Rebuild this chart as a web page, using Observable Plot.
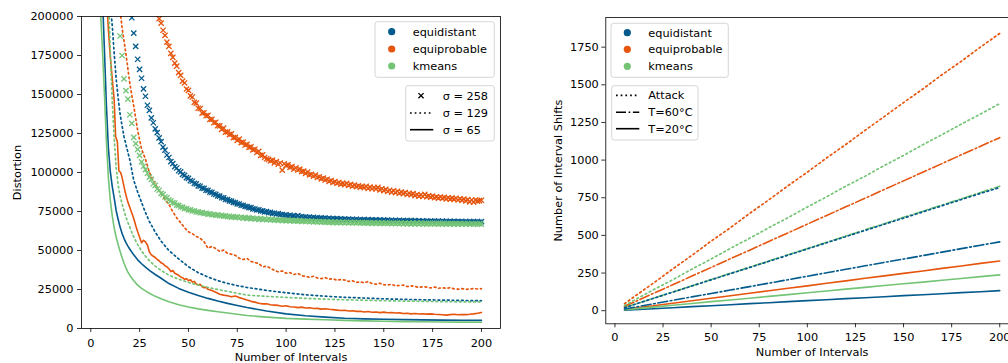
<!DOCTYPE html>
<html><head><meta charset="utf-8">
<script src="https://cdn.jsdelivr.net/npm/d3@7"></script>
<script src="https://cdn.jsdelivr.net/npm/@observablehq/plot@0.6"></script>
<style>
html,body{margin:0;padding:0;background:#fff;overflow:hidden;}
#wrap{position:relative;width:1008px;height:363px;overflow:hidden;font-family:"DejaVu Sans";}
#wrap svg{position:absolute;top:0;}
</style></head><body><div id="wrap"></div>
<script>
// ---------- data ----------
const methods = ["equidistant", "equiprobable", "kmeans"];
const colors = ["#045a8d", "#e6550d", "#74c476"];
const xTicks = [0, 25, 50, 75, 100, 125, 150, 175, 200];
const yTicksL = [0, 25000, 50000, 75000, 100000, 125000, 150000, 175000, 200000];
const yTicksR = [0, 250, 500, 750, 1000, 1250, 1500, 1750];

// left panel: distortion in thousands
const gridA = [5,6,7,8,9,10,11,12,13,14,15,16,17,18,19,20,22,24,26,28,30,33,36,40,45,50,55,60,65,70,75,80,90,100,110,120,130,140,150,160,170,180,190,200];
const eqd65 = [260,212,178,143,116,100.5,91,83.5,75.5,70,65,61,57.8,55,52.8,50.8,47.2,44,41.5,39.3,37.3,34.6,32.2,28.8,25.7,23.3,21.2,19.3,17.6,16.1,14.8,13.5,11.2,9.4,8.2,7.3,6.6,6.2,5.9,5.7,5.5,5.4,5.3,5.2];
const km65 = [203,178,150,120,97,82,72,64.3,58.5,53.8,49.5,45.5,42,38.8,36.2,34,30.6,27.8,25.7,24.1,22.6,20.6,19.1,17.2,15.2,13.8,12.6,11.6,10.7,9.9,9.1,8.3,7.3,6.5,6.0,5.6,5.2,4.9,4.6,4.4,4.3,4.2,4.1,4.0];
const eqp65N = [7,8,9,10,11,12,12.7,13.6,14.4,15.3, ...d3.range(16, 61), ...d3.range(62, 201, 2)];
const eqp65 = [260,215,192,174,160,146,123,120,101,100,
  97,91,85.5,81,77.5,74,70.5,66,62,58.5,55,56.5,55.5,53.5,49,47.2,46.3,45.5,44.2,43.4,
  42.1,41.5,40.2,39.5,38.3,36.5,37.2,35.4,34.8,34.1,33.0,32.6,31.4,32.0,30.6,31.2,29.8,30.2,28.6,27.9,
  28.3,26.8,26.1,26.5,25.1,
  24.3,23.2,22.0,21.4,21.0,20.3,20.8,19.8,19.1,18.2,17.4,16.9,16.2,15.8,15.9,15.2,15.0,14.8,14.3,14.6,
  13.9,13.8,13.4,13.7,13.1,13.3,12.8,12.9,12.4,12.7,12.3,12.1,11.8,11.5,11.7,11.2,11.4,11.0,11.1,10.6,
  10.9,10.4,10.6,10.2,10.5,10.1,10.3,9.9,10.0,9.6,9.8,9.4,9.6,9.3,9.5,9.2,9.4,9.1,9.0,8.8,
  8.6,8.9,9.1,8.8,9.0,8.9,9.1,9.4,9.8,10.3];
const eqd129 = [400,330,290,255,228,208,194,176,160,148,137.5,130,123.1,118,113,108,95,87.5,80.8,74.3,68.6,61.8,56,50,44.6,39.6,35.8,33,30.7,28.9,27.5,26.3,24.4,22.9,21.6,20.7,20.0,19.5,19.0,18.7,18.4,18.2,18.0,17.8];
const km129 = [350,310,280,250,215,178,145,122,103,92,85,80,75.5,71.5,68,64.8,58.7,53.8,49.7,46.3,43.5,40,37.2,34.2,31.6,29.5,27.8,26.3,25,23.8,22.6,21.4,20.6,19.9,19.3,18.8,18.4,18.1,17.8,17.6,17.4,17.2,17.1,17.0];
const eqp129N = d3.range(14, 201, 2);
const eqp129 = [215,193,176,157,142.5,127,115,108.5,100,95,90.3,86.8,82.6,79.5,74.8,70.9,67.8,64.6,62.0,60.8,
  59.0,57.9,55.6,51.5,52.6,51.2,49.4,50.3,48.2,47.6,46.9,45.0,44.2,44.9,43.0,42.3,41.6,39.5,39.9,38.6,
  37.2,36.3,36.9,35.4,35.8,34.6,35.3,33.9,33.4,32.8,33.5,32.4,32.0,32.6,31.6,31.9,30.9,31.4,31.1,30.2,
  30.6,29.5,29.9,29.3,30.1,28.8,28.4,29.0,28.1,27.9,28.4,27.3,27.6,27.8,26.9,27.3,27.0,26.3,26.8,26.5,
  26.0,26.6,25.8,26.1,25.7,26.2,25.4,25.2,25.6,25.1,25.3,25.7,25.3,25.5];
// sigma = 258 markers, one per number of intervals
const eqd258Start = 21;
const eqd258 = [199.2,189.3,180.8,172.6,166.1,160.4,153.6,148.9,143.1,139.8,
  135.0,131.9,128.0,125.6,122.2,119.8,116.3,114.3,111.2,109.6,
  107.0,105.7,103.8,102.9,101.1,100.4,98.8,98.2,96.7,96.2,
  94.8,94.4,93.0,92.7,91.4,91.2,90.0,89.8,88.6,88.5,
  87.4,87.3,86.2,86.0,85.0,84.9,83.8,83.7,82.7,82.6,
  81.8,81.6,80.8,80.7,79.9,79.8,79.0,78.9,78.2,78.1,
  77.5,77.5,76.7,76.6,76.0,76.1,75.4,75.4,74.8,74.9,
  74.3,74.4,73.8,73.9,73.4,73.6,73.0,73.1,72.6,72.8,
  72.3,72.6,72.0,72.2,71.8,72.4,71.6,71.8,71.3,71.5,
  71.1,71.4,70.9,71.2,70.8,71.0,70.6,70.9,70.5,70.8,
  70.3,70.7,70.2,70.5,70.1,70.4,70.0,70.3,69.9,70.2,
  69.8,70.1,69.7,70.0,69.6,70.0,69.5,69.9,69.5,69.8,
  69.4,69.8,69.3,69.7,69.3,69.6,69.2,69.6,69.2,69.5,
  69.1,69.5,69.0,69.4,69.0,69.3,68.9,69.3,68.9,69.2,
  68.8,69.2,68.8,69.1,68.7,69.1,68.7,69.0,68.6,69.0,
  68.6,68.9,68.5,68.9,68.5,68.8,68.5,68.8,68.4,68.8,
  68.4,68.7,68.4,68.7,68.3,68.7,68.3,68.6,68.3,68.6,
  68.2,68.6,68.2,68.5,68.2,68.5,68.2,68.5,68.1,68.5];
const eqp258Start = 34;
const eqp258 = [202.5,198.6,195.8,191.2,187.9,183.6,180.9,176.4,173.8,170.1,
  168.2,164.0,162.3,158.6,157.4,153.5,152.6,149.1,148.4,145.0,
  144.5,141.2,141.0,138.1,138.3,136.4,136.6,134.0,134.1,131.9,
  132.2,130.0,129.9,127.6,128.4,125.9,126.0,124.3,124.8,122.4,
  122.5,120.6,121.4,119.2,119.5,117.6,118.0,116.1,116.4,114.5,
  114.9,112.8,113.5,111.0,111.3,109.6,108.8,108.4,107.5,107.9,
  106.2,107.0,105.3,106.1,101.5,105.6,104.6,104.9,103.3,103.8,
  102.1,103.0,101.6,102.2,100.6,100.9,99.4,100.3,98.5,98.9,
  97.6,98.3,96.8,97.3,95.9,96.4,95.2,95.7,94.3,94.9,
  93.6,94.2,93.1,93.6,92.5,93.0,92.2,93.1,91.7,92.4,
  91.2,91.9,90.9,91.5,90.6,91.0,90.3,91.2,89.8,90.6,
  89.6,90.4,89.5,90.5,88.9,89.6,88.4,89.2,87.8,88.6,
  87.4,88.3,87.1,88.0,86.7,87.4,86.5,87.2,85.9,86.7,
  85.8,86.5,85.2,85.9,84.9,85.6,84.6,86.0,84.5,85.1,
  84.2,84.9,83.8,84.4,83.6,84.3,83.5,84.1,83.1,83.8,
  82.9,83.6,82.8,83.5,82.4,83.2,82.3,82.9,81.8,82.6,
  81.2,82.4,81.0,82.3,81.6,82.0,82.2];
const km258Start = 14;
const km258 = [203,187.5,175.0,160.0,152.5,147.0,137.0,131.5,122.5,118.5,
  114.8,111.0,106.8,104.0,101.8,99.5,97.0,95.6,92.8,91.7,
  89.4,88.6,86.6,86.0,84.3,83.7,82.4,81.8,80.7,80.4,
  79.1,78.9,77.9,77.8,76.8,76.9,76.0,76.0,75.3,75.4,
  74.7,74.8,74.2,74.3,73.7,73.9,73.3,73.5,72.9,73.1,
  72.6,72.8,72.3,72.5,72.0,72.2,71.7,71.9,71.4,71.7,
  71.2,71.5,71.0,71.3,70.8,71.1,70.6,70.9,70.4,70.7,
  70.2,70.5,70.0,70.4,69.9,70.2,69.7,70.1,69.6,69.9,
  69.4,69.8,69.3,69.7,69.2,69.5,69.1,69.4,69.0,69.3,
  68.9,69.2,68.8,69.1,68.7,69.0,68.6,68.9,68.5,68.8,
  68.4,68.7,68.3,68.6,68.2,68.5,68.1,68.4,68.0,68.4,
  67.9,68.3,67.9,68.2,67.8,68.2,67.8,68.1,67.7,68.1,
  67.7,68.0,67.6,68.0,67.6,67.9,67.5,67.9,67.5,67.8,
  67.4,67.8,67.4,67.8,67.3,67.7,67.3,67.7,67.3,67.6,
  67.2,67.6,67.2,67.6,67.2,67.6,67.1,67.5,67.1,67.5,
  67.1,67.5,67.1,67.5,67.0,67.5,67.0,67.4,67.0,67.4,
  67.0,67.4,67.0,67.4,66.9,67.4,66.9,67.4,66.9,67.3,
  66.9,67.3,66.9,67.3,66.9,67.3,66.8,67.3,66.8,67.3,
  66.8,67.3,66.8,67.2,66.8,67.2,66.8];

// right panel: number of interval shifts
const nR = [5,10,20,30,40,50,60,70,80,90,100,110,120,130,140,150,160,170,180,190,200];
const eqpAttack = [46,93,183,277,367,462,551,646,736,830,920,1014,1104,1198,1289,1382,1472,1567,1656,1751,1841];
const kmAttack = [34,69,139,205,276,343,414,481,551,618,689,756,827,893,964,1031,1102,1169,1239,1306,1375];
const eqdAttack = [20,41,82,123,164,205,246,287,328,369,410,451,492,533,574,615,656,697,738,779,818];
const eqpT60 = [29,57,115,172,230,287,345,402,460,517,575,632,690,747,805,862,920,977,1035,1092,1149];
const kmT60 = [21,41,83,124,165,207,248,289,330,372,413,454,496,537,578,620,661,702,743,785,826];
const eqdT60 = [11,23,46,69,92,114,137,160,183,206,229,252,275,298,321,343,366,389,412,435,457];
const eqpT20 = [8,17,33,50,66,83,99,116,132,149,165,182,198,215,231,248,264,281,297,314,330];
const kmT20 = [6,12,24,36,48,60,71,83,95,107,119,131,143,155,167,179,190,202,214,226,238];
const eqdT20 = [3,7,13,20,27,33,40,47,53,60,67,73,80,86,93,100,106,113,120,126,133];

// ---------- build ----------
const K = 1000;
const FONT = "DejaVu Sans", FS = 11.3;
const rowsOf = (ns, vs, method, s = 1) => vs.map((v, i) => ({n: ns[i], v: v * s, method}));
const rowsFrom = (start, vs, method) => vs.map((v, i) => ({n: start + i, v: v * K, method}));

const solidL = [...rowsOf(gridA, eqd65, "equidistant", K), ...rowsOf(eqp65N, eqp65, "equiprobable", K), ...rowsOf(gridA, km65, "kmeans", K)];
const dottedL = [...rowsOf(gridA, eqd129, "equidistant", K), ...rowsOf(eqp129N, eqp129, "equiprobable", K), ...rowsOf(gridA, km129, "kmeans", K)];
const crossL = [...rowsFrom(eqd258Start, eqd258, "equidistant"), ...rowsFrom(eqp258Start, eqp258, "equiprobable"), ...rowsFrom(km258Start, km258, "kmeans")];

const attackR = [...rowsOf(nR, eqdAttack, "equidistant"), ...rowsOf(nR, eqpAttack, "equiprobable"), ...rowsOf(nR, kmAttack, "kmeans")];
const t60R = [...rowsOf(nR, kmT60, "kmeans"), ...rowsOf(nR, eqdT60, "equidistant"), ...rowsOf(nR, eqpT60, "equiprobable")];
const t20R = [...rowsOf(nR, eqdT20, "equidistant"), ...rowsOf(nR, eqpT20, "equiprobable"), ...rowsOf(nR, kmT20, "kmeans")];

const style = {fontFamily: FONT, fontSize: FS + "px", color: "#000", background: "transparent", overflow: "visible"};
const DOT = "1.7,3", DASHDOT = "10,2.6,1.7,2.6";
const DW = 1.7;

const left = Plot.plot({
  width: 505, height: 363,
  marginLeft: 81, marginRight: 5, marginTop: 16, marginBottom: 35,
  style,
  x: {domain: [-4.75, 209.75]},
  y: {domain: [0, 200000]},
  color: {domain: methods, range: colors},
  marks: [
    Plot.line(solidL, {x: "n", y: "v", stroke: "method", z: "method", strokeWidth: 1.6, clip: true}),
    Plot.line(dottedL, {x: "n", y: "v", stroke: "method", z: "method", strokeWidth: DW, strokeDasharray: DOT, clip: true}),
    Plot.dot(crossL, {x: "n", y: "v", stroke: "method", symbol: "times", r: 2.5, strokeWidth: 1.3, clip: true}),
    Plot.axisX({ticks: xTicks, tickSize: 4, tickPadding: 6, tickFormat: d => String(d), label: null, strokeWidth: 0.8}),
    Plot.axisY({ticks: yTicksL, tickSize: 4, tickPadding: 4, tickFormat: d => String(d), label: null, strokeWidth: 0.8}),
    Plot.frame({stroke: "#000", strokeWidth: 0.8}),
    Plot.text(["Number of Intervals"], {frameAnchor: "bottom", dy: 29, text: d => d, textAnchor: "middle", lineAnchor: "middle", fontSize: FS, fill: "#000"}),
    Plot.text(["Distortion"], {frameAnchor: "left", dx: -64.3, rotate: -90, text: d => d, textAnchor: "middle", lineAnchor: "middle", fontSize: FS, fill: "#000"})
  ]
});
left.style.left = "0px";

const right = Plot.plot({
  width: 490, height: 363,
  marginLeft: 65.3, marginRight: 12, marginTop: 17, marginBottom: 39.7,
  style,
  x: {domain: [-4.75, 209.75]},
  y: {domain: [-87, 1947]},
  color: {domain: methods, range: colors},
  marks: [
    Plot.line(t20R, {x: "n", y: "v", stroke: "method", z: "method", strokeWidth: 1.6, clip: true}),
    Plot.line(t60R, {x: "n", y: "v", stroke: "method", z: "method", strokeWidth: 1.6, strokeDasharray: DASHDOT, clip: true}),
    Plot.line(attackR, {x: "n", y: "v", stroke: "method", z: "method", strokeWidth: DW, strokeDasharray: DOT, clip: true}),
    Plot.axisX({ticks: xTicks, tickSize: 4, tickPadding: 5, tickFormat: d => String(d), label: null, strokeWidth: 0.8}),
    Plot.axisY({ticks: yTicksR, tickSize: 4, tickPadding: 3, tickFormat: d => String(d), label: null, strokeWidth: 0.8}),
    Plot.frame({stroke: "#000", strokeWidth: 0.8}),
    Plot.text(["Number of Intervals"], {frameAnchor: "bottom", dy: 29, text: d => d, textAnchor: "middle", lineAnchor: "middle", fontSize: FS, fill: "#000"}),
    Plot.text(["Number of Interval Shifts"], {frameAnchor: "left", dx: -47, rotate: -90, text: d => d, textAnchor: "middle", lineAnchor: "middle", fontSize: FS, fill: "#000"})
  ]
});
right.style.left = "540px";

const wrap = document.getElementById("wrap");
wrap.appendChild(left);
wrap.appendChild(right);

// ---------- legends ----------
const ov = d3.select(wrap).append("svg")
  .attr("width", 1008).attr("height", 363)
  .style("left", "0px").style("top", "0px")
  .style("font-family", FONT).style("font-size", FS + "px");
const box = (x, y, w, h) => ov.append("rect").attr("x", x).attr("y", y).attr("width", w).attr("height", h)
  .attr("rx", 2.5).attr("fill", "#fff").attr("fill-opacity", 0.8).attr("stroke", "#cccccc").attr("stroke-width", 0.8);
const label = (x, y, t) => ov.append("text").attr("x", x).attr("y", y).attr("dy", "0.35em").attr("fill", "#000").text(t);
const colorLegend = (bx, by, bw, bh, mx, tx, ys) => {
  box(bx, by, bw, bh);
  methods.forEach((m, i) => {
    ov.append("circle").attr("cx", mx).attr("cy", ys[i]).attr("r", 3.6).attr("fill", colors[i]);
    label(tx, ys[i], m);
  });
};
colorLegend(375, 21.7, 119.3, 55.6, 391.7, 412.7, [31.7, 49, 66]);
colorLegend(611, 23.3, 117.3, 54, 627.3, 648.3, [32.7, 49.3, 66.3]);

// sigma legend (left)
box(405.7, 85.7, 88.6, 55.3);
const sigY = [95.7, 113, 129.7];
ov.append("path").attr("d", `M${421-2.6},${sigY[0]-2.6}L${421+2.6},${sigY[0]+2.6}M${421-2.6},${sigY[0]+2.6}L${421+2.6},${sigY[0]-2.6}`)
  .attr("stroke", "#000").attr("stroke-width", 1.3);
ov.append("line").attr("x1", 410).attr("x2", 433.3).attr("y1", sigY[1]).attr("y2", sigY[1]).attr("stroke", "#000").attr("stroke-width", DW).attr("stroke-dasharray", DOT);
ov.append("line").attr("x1", 410).attr("x2", 433.3).attr("y1", sigY[2]).attr("y2", sigY[2]).attr("stroke", "#000").attr("stroke-width", 1.6);
["σ = 258", "σ = 129", "σ = 65"].forEach((t, i) => label(442.7, sigY[i], t));

// condition legend (right)
box(611.7, 85.7, 86.3, 54.3);
const cY = [95.3, 112.3, 128.7];
[DOT, DASHDOT, null].forEach((da, i) => {
  const l = ov.append("line").attr("x1", 616).attr("x2", 639.3).attr("y1", cY[i]).attr("y2", cY[i]).attr("stroke", "#000").attr("stroke-width", da === DOT ? DW : 1.6);
  if (da) l.attr("stroke-dasharray", da);
});
["Attack", "T=60°C", "T=20°C"].forEach((t, i) => label(648.3, cY[i], t));
</script></body></html>
